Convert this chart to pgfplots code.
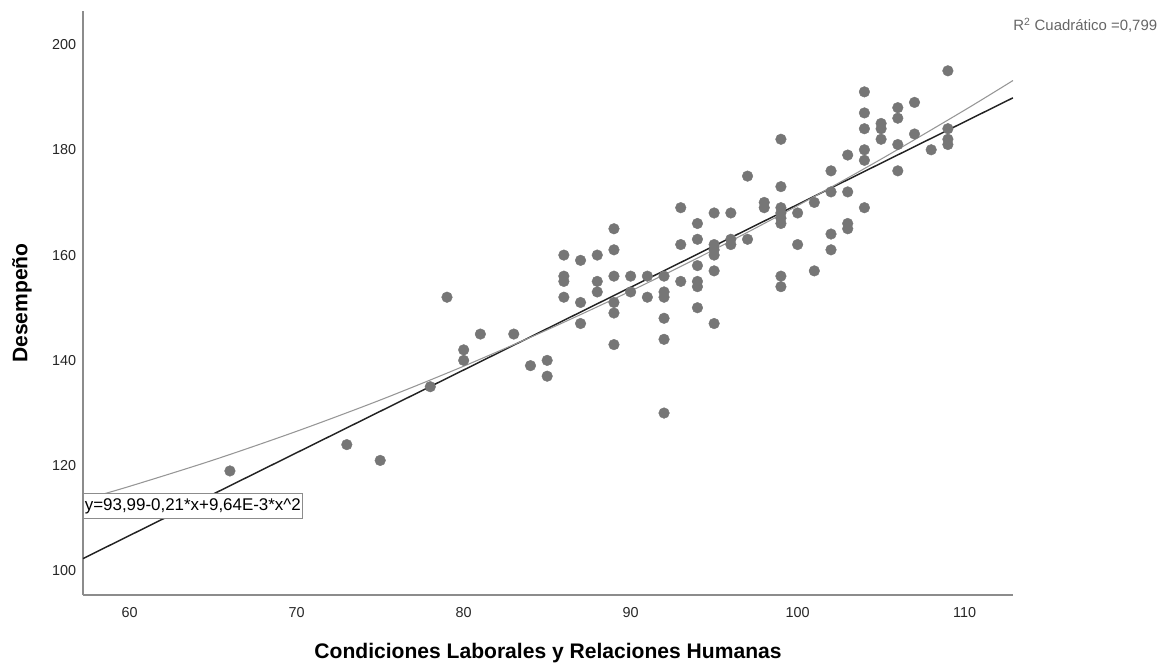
\documentclass[border=0pt]{standalone}
\usepackage{pgfplots}
\pgfplotsset{compat=1.18}
\usepackage{fontspec}
\setmainfont{Liberation Sans}
\definecolor{dotgray}{RGB}{118,118,118}
\definecolor{axgray}{RGB}{140,140,140}
\definecolor{quadgray}{RGB}{150,150,150}
\definecolor{lingray}{RGB}{35,35,35}

\begin{document}
\begin{tikzpicture}
\useasboundingbox (-62.25pt,-51.75pt) rectangle (807pt,446.25pt);
\begin{axis}[
  scale only axis,
  width=697.5pt, height=438pt,
  xmin=57.2, xmax=112.9,
  ymin=95.44, ymax=206.36,
  axis x line=bottom, axis y line=left,
  axis line style={-, axgray, line width=1.1pt},
  xtick={60,70,...,110},
  ytick={100,120,...,200},
  major tick length=0pt,
  /pgf/number format/assume math mode=true,
  tick label style={font=\fontsize{10.8}{12}\selectfont, color=black!85},
  xticklabel style={yshift=-6pt},
  yticklabel style={xshift=-1.6pt},
  clip=true,
]
% observaciones
\addplot[only marks, mark=*, mark size=4pt, color=dotgray,
  mark options={draw=dotgray, fill=dotgray, line width=0.3pt}] table {
x y
66 119
73 124
75 121
78 135
79 152
80 142
80 140
81 145
83 145
84 139
85 140
85 137
86 160
86 156
86 155
86 152
87 159
87 151
87 147
88 160
88 155
88 153
89 165
89 161
89 156
89 151
89 149
89 143
90 156
90 153
91 156
91 152
92 156
92 153
92 152
92 148
92 144
92 130
93 169
93 162
93 155
94 166
94 163
94 158
94 155
94 154
94 150
95 168
95 162
95 161
95 160
95 157
95 147
96 168
96 163
96 162
97 175
97 163
98 170
98 169
99 182
99 173
99 169
99 168
99 167
99 166
99 156
99 154
100 168
100 162
101 170
101 157
102 176
102 172
102 164
102 161
103 179
103 172
103 166
103 165
104 191
104 187
104 184
104 180
104 178
104 169
105 185
105 184
105 182
106 188
106 186
106 181
106 176
107 189
107 183
108 180
109 195
109 184
109 182
109 181
};
% ajuste lineal
\addplot[lingray, line width=1.1pt] coordinates {(57.2,102.36) (112.9,189.87)};
% ajuste cuadratico
\addplot[quadgray, line width=0.8pt, smooth] coordinates {
(57.2,113.52) (60,116.09) (65,121.07) (70,126.54) (75,132.47) (80,138.90)
(85,145.80) (90,153.17) (95,161.04) (100,169.39) (105,178.23) (110,187.53) (112.9,193.16)};
\node[draw=axgray, line width=0.75pt, fill=white, anchor=west, inner xsep=1pt,
  minimum height=18pt, font=\fontsize{12.7}{14}\selectfont]
  at (axis cs:57.2,112.34) {y=93,99-0,21*x+9,64E-3*x\textasciicircum 2};
\end{axis}
\node[anchor=base west, inner sep=0pt, text=black!60, font=\fontsize{11.2}{13}\selectfont]
  at (697.5pt,423.5pt) {R\textsuperscript{2} Cuadrático =0,799};
\node[anchor=base, inner sep=0pt, font=\bfseries\fontsize{15.8}{18}\selectfont]
  at (348.75pt,-47.5pt) {Condiciones Laborales y Relaciones Humanas};
\node[anchor=base, rotate=90, inner sep=0pt, font=\bfseries\fontsize{15.8}{18}\selectfont]
  at (-41.8pt,219pt) {Desempeño};
\end{tikzpicture}
\end{document}
